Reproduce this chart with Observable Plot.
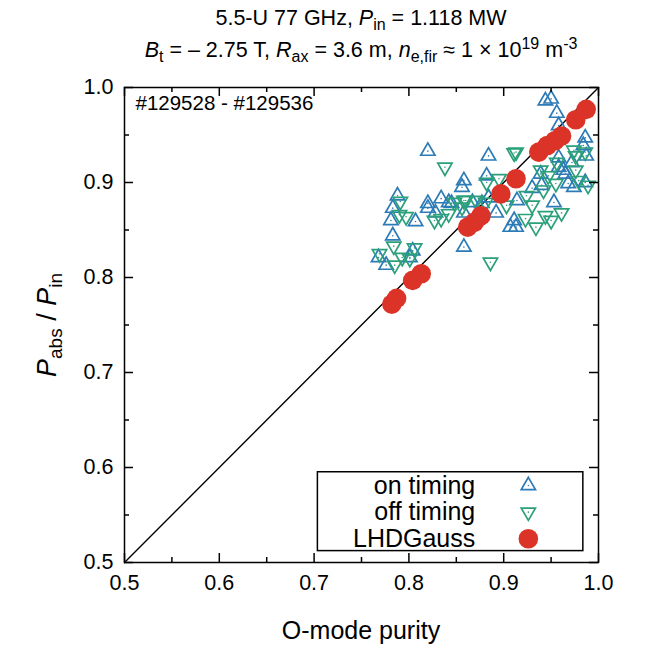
<!DOCTYPE html>
<html>
<head>
<meta charset="utf-8">
<script src="https://cdn.jsdelivr.net/npm/d3@7"></script>
<script src="https://cdn.jsdelivr.net/npm/@observablehq/plot@0.6"></script>
<style>
  body { margin: 0; background: white; }
  #wrap { position: relative; width: 654px; height: 648px; font-family: "Liberation Sans", Arial, sans-serif; color: black; }
  .ttl { position: absolute; left: 124px; width: 474px; text-align: center; font-size: 21.5px; line-height: 21px; white-space: nowrap; }
  .ttl sub, .ttl sup { font-size: 16px; line-height: 0; }
  .ttl sub { vertical-align: -5px; }
  .ttl sup { vertical-align: 8px; }
  .yl { position: absolute; font-size: 27px; white-space: nowrap; transform: translate(-50%, -50%) rotate(-90deg); left: 47px; top: 325px; }
  .yl sub { font-size: 19px; line-height: 0; vertical-align: -6px; }
  .xl { position: absolute; font-size: 25px; left: 124px; width: 474px; text-align: center; top: 616px; }
  #plot { position: absolute; left: 0; top: 70px; }
</style>
</head>
<body>
<div id="wrap">
  <div class="ttl" style="top: 8px;">5.5-U 77 GHz, <i>P</i><sub>in</sub> = 1.118 MW</div>
  <div class="ttl" style="top: 40px;"><i>B</i><sub>t</sub> = – 2.75 T, <i>R</i><sub>ax</sub> = 3.6 m, <i>n</i><sub>e,fir</sub> ≈ 1 × 10<sup>19</sup> m<sup>-3</sup></div>
  <div id="plot"></div>
  <div class="yl"><i>P</i><sub>abs</sub> / <i>P</i><sub>in</sub></div>
  <div class="xl">O-mode purity</div>
</div>
<script>
// ---- data ----
const onTimingX = [0.820,0.858,0.856,0.788,0.834,0.820,0.842,0.884,0.882,0.783,0.781,0.807,0.820,0.828,0.783,0.768,0.776,0.801,0.804,0.845,0.867,0.877,0.884,0.892,0.858,0.911,0.907,0.858,0.944,0.950,0.956,0.958,0.986,0.984,0.987,0.958,0.972,0.958,0.963,0.939,0.965,0.940,0.968,0.986,0.974,0.914,0.930,0.953,0.913];
const onTimingY = [0.933,0.902,0.895,0.886,0.883,0.878,0.879,0.928,0.907,0.873,0.860,0.859,0.873,0.868,0.844,0.821,0.813,0.821,0.828,0.878,0.879,0.878,0.884,0.868,0.868,0.860,0.853,0.832,0.986,0.988,0.973,0.960,0.947,0.939,0.928,0.926,0.921,0.916,0.913,0.909,0.909,0.897,0.899,0.900,0.895,0.881,0.894,0.879,0.853];

const offTimingX = [0.838,0.791,0.858,0.882,0.790,0.797,0.827,0.784,0.769,0.785,0.793,0.806,0.801,0.911,0.895,0.848,0.860,0.871,0.881,0.903,0.842,0.834,0.856,0.886,0.974,0.986,0.976,0.956,0.913,0.939,0.976,0.947,0.955,0.942,0.979,0.989,0.924,0.930,0.923,0.934,0.944,0.950,0.961];
const offTimingY = [0.916,0.880,0.881,0.900,0.866,0.864,0.860,0.833,0.825,0.813,0.821,0.831,0.820,0.931,0.904,0.879,0.881,0.881,0.879,0.876,0.867,0.862,0.874,0.816,0.934,0.932,0.928,0.921,0.932,0.913,0.913,0.907,0.899,0.892,0.902,0.897,0.886,0.876,0.862,0.853,0.865,0.860,0.868];

const gaussX = [0.782,0.787,0.804,0.813,0.862,0.869,0.876,0.897,0.913,0.937,0.946,0.954,0.961,0.976,0.987];
const gaussY = [0.772,0.778,0.797,0.804,0.853,0.858,0.865,0.888,0.904,0.932,0.939,0.944,0.949,0.966,0.977];

const diagonal = [0.5, 1.0];
const majorTicks = [0.5,0.6,0.7,0.8,0.9,1.0];
const minorTicks = [0.55,0.65,0.75,0.85,0.95];
const legendLabels = ["on timing","off timing","LHDGauss"];
const shotLabel = "#129528 - #129536";

// ---- build ----
const onT = onTimingX.map((x,i)=>({x, y:onTimingY[i]}));
const offT = offTimingX.map((x,i)=>({x, y:offTimingY[i]}));
const gauss = gaussX.map((x,i)=>({x, y:gaussY[i]}));
const diag = diagonal.map(v=>({x:v, y:v}));

const BLUE = "#2c7bb6", GREEN = "#2ba07a", RED = "#dc3328";
const W = 654, H = 578, ML = 124, MR = 56, MT = 17, MB = 86;
const FW = W-ML-MR, FH = H-MT-MB;

const legendRows = [0.581, 0.553, 0.525];
const legTextX = 0.870, legSymX = 0.926;

const tickMarks = (ticks, len) => [
  Plot.tickX(ticks, {x: d=>d, insetTop: FH-len, stroke:"black", strokeWidth:1.5}),
  Plot.tickX(ticks, {x: d=>d, insetBottom: FH-len, stroke:"black", strokeWidth:1.5}),
  Plot.tickY(ticks, {y: d=>d, insetRight: FW-len, stroke:"black", strokeWidth:1.5}),
  Plot.tickY(ticks, {y: d=>d, insetLeft: FW-len, stroke:"black", strokeWidth:1.5})
];

const chart = Plot.plot({
  width: W, height: H,
  marginLeft: ML, marginRight: MR, marginTop: MT, marginBottom: MB,
  style: {fontFamily: '"Liberation Sans", Arial, sans-serif', fontSize: "21px", color: "black", background: "white", overflow: "visible"},
  x: {domain: [0.5, 1.0]},
  y: {domain: [0.5, 1.0]},
  marks: [
    Plot.axisX(majorTicks, {anchor: "bottom", tickSize: 0, tickPadding: 12, tickFormat: d3.format(".1f"), label: null, fontSize: 21.5}),
    Plot.axisY(majorTicks, {anchor: "left", tickSize: 0, tickPadding: 11, tickFormat: d3.format(".1f"), label: null, fontSize: 21.5}),
    Plot.line(diag, {x:"x", y:"y", stroke:"black", strokeWidth:1.4}),
    Plot.dot(onT, {x:"x", y:"y", symbol:"triangle", r:5.3, stroke:BLUE, strokeWidth:1.7, fill:"none"}),
    Plot.dot(onT, {x:"x", y:"y", r:0.8, fill:BLUE}),
    Plot.dot(offT, {x:"x", y:"y", symbol:"triangle", rotate:180, r:5.3, stroke:GREEN, strokeWidth:1.7, fill:"none"}),
    Plot.dot(offT, {x:"x", y:"y", r:0.8, fill:GREEN}),
    Plot.dot(gauss, {x:"x", y:"y", r:9.8, fill:RED}),
    Plot.text([shotLabel], {frameAnchor:"top-left", dx:11, dy:8, textAnchor:"start", lineAnchor:"top", fontSize:20.5}),
    // legend
    Plot.rect([0], {x1:0.704, x2:0.984, y1:0.512, y2:0.595, fill:"white", stroke:"black", strokeWidth:1.5}),
    Plot.text(legendLabels, {x: legTextX, y: (d,i)=>legendRows[i], textAnchor:"end", fontSize:25}),
    Plot.dot([legendLabels[0]], {x: legSymX, y: legendRows[0], symbol:"triangle", r:5.3, stroke:BLUE, strokeWidth:1.7, fill:"none"}),
    Plot.dot([legendLabels[0]], {x: legSymX, y: legendRows[0], r:0.8, fill:BLUE}),
    Plot.dot([legendLabels[1]], {x: legSymX, y: legendRows[1], symbol:"triangle", rotate:180, r:5.3, stroke:GREEN, strokeWidth:1.7, fill:"none"}),
    Plot.dot([legendLabels[1]], {x: legSymX, y: legendRows[1], r:0.8, fill:GREEN}),
    Plot.dot([legendLabels[2]], {x: legSymX, y: legendRows[2], r:9.8, fill:RED}),
    ...tickMarks(majorTicks, 9),
    ...tickMarks(minorTicks, 5),
    Plot.frame({stroke:"black", strokeWidth:1.5})
  ]
});
document.getElementById("plot").appendChild(chart);
</script>
</body>
</html>
